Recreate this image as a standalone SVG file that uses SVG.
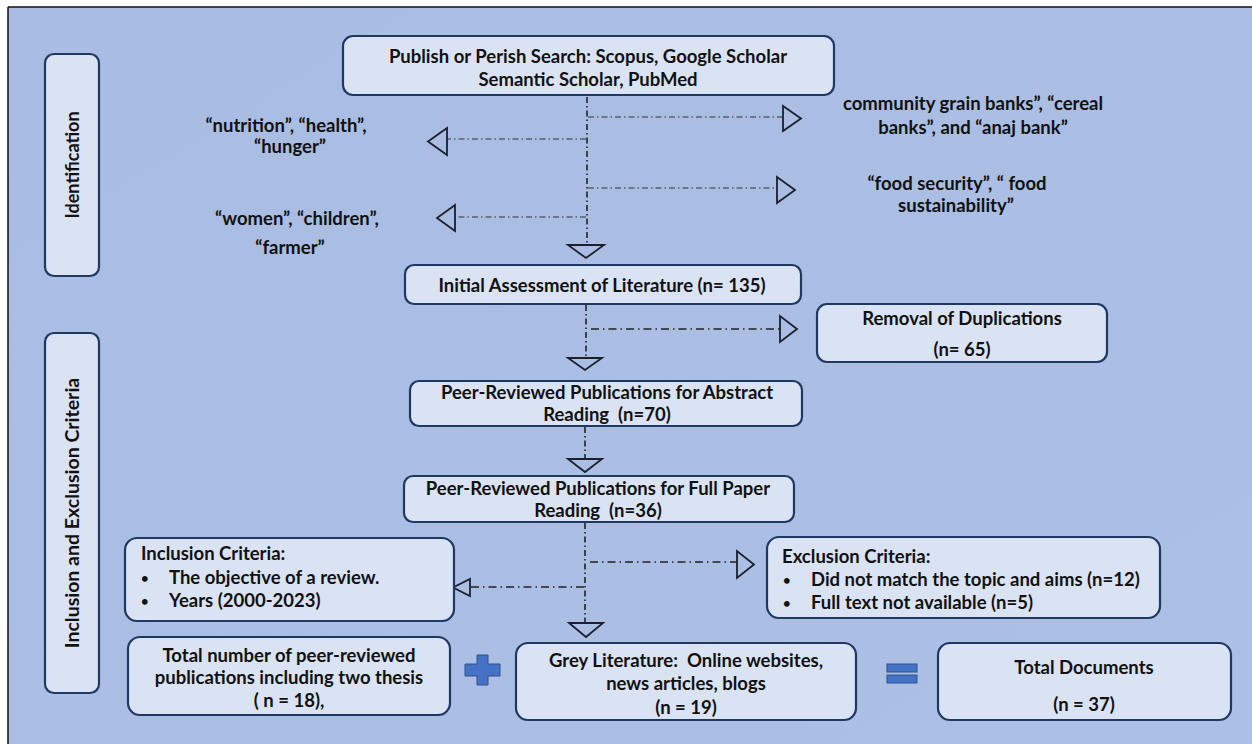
<svg xmlns="http://www.w3.org/2000/svg" width="1252" height="744" viewBox="0 0 1252 744">
<defs>
<linearGradient id="bg" x1="0" y1="0" x2="1" y2="1">
<stop offset="0" stop-color="#A9BDE2"/>
<stop offset="1" stop-color="#ABC0E4"/>
</linearGradient>
</defs>
<style>
.box{fill:#DAE3F3;stroke:#1F3864;stroke-width:2.2}
.t{font-family:Lato,"Liberation Sans",sans-serif;font-weight:bold;font-size:18.5px;fill:#111;white-space:pre}
.m{text-anchor:middle}
.b{font-size:13px}
.dl{stroke:#222;stroke-width:1.6;fill:none;stroke-dasharray:6 3 1.5 3}
.db{stroke:#333;stroke-width:1;fill:none;stroke-dasharray:6 3 1.5 3}
.dm{stroke:#222;stroke-width:1.5;fill:none;stroke-dasharray:8 4 1.5 4}
.tri{fill:none;stroke:#1b1f2e;stroke-width:1.8;stroke-linejoin:miter}
.sym{fill:#4472C4;stroke:#2F528F;stroke-width:1}
</style>
<rect x="0" y="0" width="1252" height="744" fill="#FFFFFF"/>
<rect x="8" y="7" width="1244" height="737" fill="url(#bg)"/>
<line x1="8" y1="7" x2="1252" y2="7" stroke="#111" stroke-width="1.5"/>
<line x1="8" y1="7" x2="8" y2="744" stroke="#111" stroke-width="1.5"/>

<g id="connectors">
<line class="dl" x1="587" y1="97" x2="587" y2="245"/>
<polygon class="tri" points="568,245 604,245 586,258"/>
<line class="db" x1="588" y1="117" x2="783" y2="117"/>
<polygon class="tri" points="783,106 783,131 801,118.5"/>
<line class="db" x1="586" y1="139" x2="447" y2="139"/>
<polygon class="tri" points="447,128 447,155 428,141.5"/>
<line class="db" x1="588" y1="188" x2="777" y2="188"/>
<polygon class="tri" points="777,177 777,203 795,190"/>
<line class="db" x1="586" y1="217" x2="455" y2="217"/>
<polygon class="tri" points="455,205 455,231 437,218"/>

<line class="dl" x1="586" y1="305" x2="586" y2="358"/>
<line class="dm" x1="591" y1="329" x2="780" y2="329"/>
<polygon class="tri" points="780,316 780,342 797,329"/>
<polygon class="tri" points="568,358 602,358 585,370"/>

<line class="dl" x1="585" y1="427" x2="585" y2="459"/>
<polygon class="tri" points="568,459 602,459 585,472"/>

<line class="dl" x1="585" y1="523" x2="585" y2="623"/>
<line class="dm" x1="590" y1="562" x2="737" y2="562"/>
<polygon class="tri" points="737,551 737,578 754,564.5"/>
<line class="dm" x1="584" y1="587" x2="470" y2="587"/>
<polygon class="tri" points="470,579 470,596 453,587.5"/>
<polygon class="tri" points="569,623 603,623 586,637"/>
</g>

<g id="identification">
<rect class="box" x="45" y="54" width="54" height="222" rx="9"/>
<text class="t m" style="font-size:18px" transform="translate(79,165) rotate(-90)">Identification</text>
</g>
<g id="inclusion-exclusion">
<rect class="box" x="45" y="333" width="54" height="360" rx="9"/>
<text class="t m" style="font-size:19.5px" transform="translate(79,513) rotate(-90)">Inclusion and Exclusion Criteria</text>
</g>

<g id="search">
<rect class="box" x="343" y="36" width="491" height="59" rx="10"/>
<text class="t m" x="588" y="63">Publish or Perish Search: Scopus, Google Scholar</text>
<text class="t m" x="588" y="86">Semantic Scholar, PubMed</text>
</g>

<g id="kw-nutrition">
<text class="t m" x="286" y="132">“nutrition”, “health”,</text>
<text class="t m" x="290" y="153">“hunger”</text>
</g>
<g id="kw-women">
<text class="t m" x="297" y="225">“women”, “children”,</text>
<text class="t m" x="290" y="254">“farmer”</text>
</g>
<g id="kw-grain">
<text class="t m" x="973" y="110">community grain banks”, “cereal</text>
<text class="t m" x="973" y="134">banks”, and “anaj bank”</text>
</g>
<g id="kw-food">
<text class="t m" x="957" y="190">“food security”, “ food</text>
<text class="t m" x="956" y="212">sustainability”</text>
</g>

<g id="initial">
<rect class="box" x="405" y="265" width="396" height="39" rx="9"/>
<text class="t m" x="602" y="292">Initial Assessment of Literature (n= 135)</text>
</g>

<g id="removal">
<rect class="box" x="817" y="304" width="290" height="58" rx="10"/>
<text class="t m" x="962" y="325">Removal of Duplications</text>
<text class="t m" x="962" y="356">(n= 65)</text>
</g>

<g id="abstract">
<rect class="box" x="410" y="381" width="392" height="45" rx="9"/>
<text class="t m" x="607" y="399">Peer-Reviewed Publications for Abstract</text>
<text class="t m" x="607" y="421">Reading  (n=70)</text>
</g>

<g id="fullpaper">
<rect class="box" x="404" y="476" width="390" height="46" rx="9"/>
<text class="t m" x="598" y="495">Peer-Reviewed Publications for Full Paper</text>
<text class="t m" x="598" y="517">Reading  (n=36)</text>
</g>

<g id="inclusion">
<rect class="box" x="125" y="538" width="329" height="83" rx="12"/>
<text class="t" x="141" y="560">Inclusion Criteria:</text>
<text class="t b" x="141" y="583">•</text>
<text class="t" x="169" y="584">The objective of a review.</text>
<text class="t b" x="141" y="606">•</text>
<text class="t" x="169" y="607">Years (2000-2023)</text>
</g>

<g id="exclusion">
<rect class="box" x="767" y="537" width="393" height="81" rx="12"/>
<text class="t" x="782" y="563">Exclusion Criteria:</text>
<text class="t b" x="783" y="585">•</text>
<text class="t" x="811" y="586">Did not match the topic and aims (n=12)</text>
<text class="t b" x="783" y="608">•</text>
<text class="t" x="811" y="609">Full text not available (n=5)</text>
</g>

<g id="total-peer">
<rect class="box" x="128" y="637" width="322" height="78" rx="12"/>
<text class="t m" x="289" y="662">Total number of peer-reviewed</text>
<text class="t m" x="289" y="684">publications including two thesis</text>
<text class="t m" x="289" y="707">( n = 18),</text>
</g>

<g id="plus">
<path class="sym" d="M477,655 H488 V664 H500 V676 H488 V685 H477 V676 H465 V664 H477 Z"/>
</g>

<g id="grey">
<rect class="box" x="516" y="643" width="340" height="77" rx="12"/>
<text class="t m" x="686" y="667">Grey Literature:  Online websites,</text>
<text class="t m" x="686" y="690">news articles, blogs</text>
<text class="t m" x="686" y="714">(n = 19)</text>
</g>

<g id="equals">
<rect class="sym" x="887" y="664" width="30" height="8"/>
<rect class="sym" x="887" y="675" width="30" height="8"/>
</g>

<g id="total">
<rect class="box" x="938" y="643" width="293" height="77" rx="12"/>
<text class="t m" x="1084" y="674">Total Documents</text>
<text class="t m" x="1084" y="711">(n = 37)</text>
</g>
</svg>
